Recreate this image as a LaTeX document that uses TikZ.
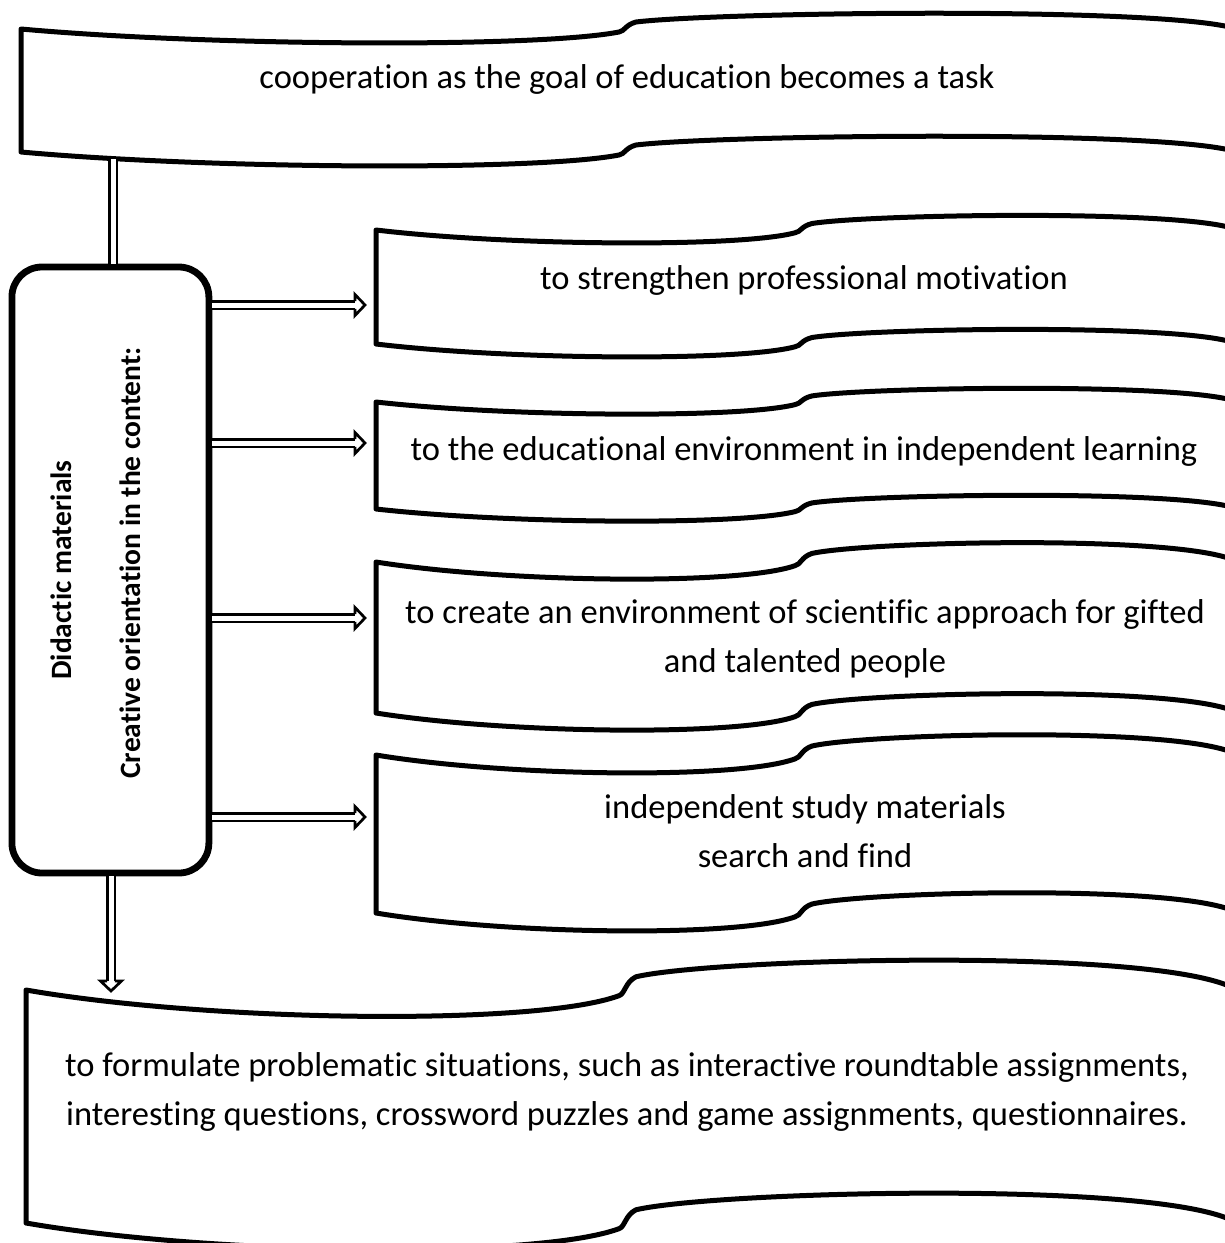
\documentclass[tikz,border=0pt]{standalone}
\usepackage{fontspec}
\setmainfont{Carlito}[Ligatures=NoCommon]
\usetikzlibrary{arrows.meta}
\newcommand{\wavebox}[4]{% L K T h
 \pgfmathsetmacro{\wvs}{#4/123}%
 \pgfmathsetmacro{\wvA}{#1+0.31*(#2-#1)}%
 \pgfmathsetmacro{\wvB}{#1+0.85*(#2-#1)}%
 \pgfmathsetmacro{\wvC}{#2+0.15*(1240-#2)}%
 \pgfmathsetmacro{\wvD}{#2+0.9*(1240-#2)}%
 \pgfmathsetmacro{\wvT}{#3}%
 \pgfmathsetmacro{\wvU}{#3+#4}%
 \draw[wave] (#1,\wvT) .. controls (\wvA,\wvT+17*\wvs) and (\wvB,\wvT+19*\wvs) .. (#2-8,\wvT+3*\wvs)
  .. controls (#2-2,\wvT+2*\wvs) and (#2-2,\wvT-4*\wvs) .. (#2+9,\wvT-7*\wvs)
  .. controls (\wvC,\wvT-17*\wvs) and (\wvD,\wvT-23*\wvs) .. (1240,\wvT+1*\wvs)
  -- (1240,\wvU+1*\wvs)
  .. controls (\wvD,\wvU-23*\wvs) and (\wvC,\wvU-17*\wvs) .. (#2+9,\wvU-7*\wvs)
  .. controls (#2-2,\wvU-4*\wvs) and (#2-2,\wvU+2*\wvs) .. (#2-8,\wvU+3*\wvs)
  .. controls (\wvB,\wvU+19*\wvs) and (\wvA,\wvU+17*\wvs) .. (#1,\wvU)
  -- cycle;}
\newcommand{\dhead}[2]{\begin{scope}[shift={(#1)}, rotate=#2]
  \draw[headst] (-11pt,3.85pt) -- (-11pt,10.5pt) -- (-1pt,0pt) -- (-11pt,-10.5pt) -- (-11pt,-3.85pt);
  \end{scope}}
\tikzset{
  wave/.style={line width=5pt, line join=round},
  txt/.style={font=\fontsize{34.5}{49}\selectfont, align=center, inner sep=0pt},
  lbl/.style={font=\fontsize{29.5}{35}\selectfont\bfseries, inner sep=0pt},
  dline/.style={double, double distance=5pt, line width=2.7pt},
  headst/.style={line width=2.7pt, fill=white, line join=miter, miter limit=10}
}
\begin{document}
\begin{tikzpicture}[x=1pt,y=-1pt]
\useasboundingbox (0,0) rectangle (1225,1243);
\clip (0,0) rectangle (1225,1243);
% wave boxes
\wavebox{21}{627}{29}{123}
\wavebox{376}{803}{230}{114}
\wavebox{376}{803}{402}{107}
\wavebox{376}{803}{562}{151}
\wavebox{376}{803}{755}{158}
\wavebox{26}{627}{990}{233}
% texts
\node[txt, anchor=base] (t1) at (627,88) {cooperation as the goal of education becomes a task};
\node[txt, anchor=base] (t2) at (804,289) {to strengthen professional motivation};
\node[txt, anchor=base] (t3) at (804,460) {to the educational environment in independent learning};
\node[txt, anchor=base] (t4) at (805,672) {to create an environment of scientific approach for gifted\\and talented people};
\node[txt, anchor=base] (t5) at (805,867) {independent study materials\\search and find};
\node[txt, anchor=base] (t6) at (627,1125) {to formulate problematic situations, such as interactive roundtable assignments,\\interesting questions, crossword puzzles and game assignments, questionnaires.};
% rounded box
\node[draw, line width=6.8pt, rounded corners=30pt, minimum width=197pt, minimum height=606pt, inner sep=0pt, outer sep=3.4pt] (rbox) at (110.4,570) {};
\node[lbl, rotate=90, anchor=base] (la) at (71,570) {Didactic materials};
\node[lbl, rotate=90, anchor=base] (lb) at (140,563) {Creative orientation in the content:};
% connectors
\coordinate (c1) at (113,159);
\draw[dline] (c1) -- (c1 |- rbox.north);
\coordinate (e2) at (366,305);
\coordinate (e3) at (366,443);
\coordinate (e4) at (366,618);
\coordinate (e5) at (366,817);
\foreach \e in {e2,e3,e4,e5} {\draw[dline] (rbox.east |- \e) -- ([xshift=-11pt]\e); \dhead{\e}{0}}
\coordinate (e6) at (111,992);
\draw[dline] (e6 |- rbox.south) -- ([yshift=11pt]e6);
\dhead{e6}{-90}
\end{tikzpicture}
\end{document}
